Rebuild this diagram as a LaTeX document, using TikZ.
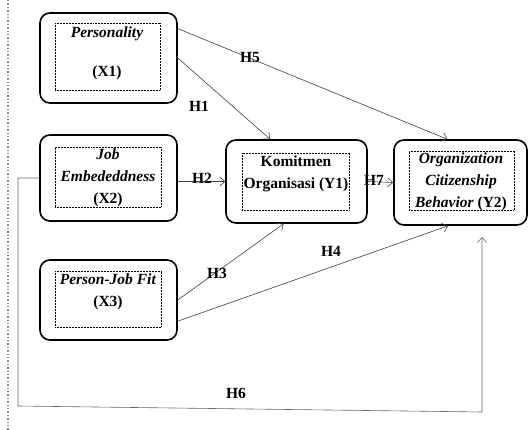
\documentclass[tikz,border=0pt]{standalone}
\usepackage{fontspec}
\setmainfont{Liberation Serif}
\usetikzlibrary{arrows.meta, positioning}

\begin{document}
\begin{tikzpicture}[
        x=1pt, y=-1pt,
        construct/.style={draw, line width=1.6pt, rounded corners=10pt, inner sep=0pt},
        frame/.style={draw, densely dotted, line width=0.5pt, inner sep=0pt},
        caption/.style={align=center, font=\fontsize{15.5}{22}\selectfont\bfseries, inner sep=0pt},
        hyp/.style={font=\fontsize{15.5}{17}\selectfont\bfseries, inner sep=1pt},
        link/.style={draw=black!75, line width=0.6pt, -{Straight Barb[length=5pt,width=9pt]}}
    ]
        \useasboundingbox (0,0) rectangle (528,430);

        % Page margin
        \draw[black!45, dotted, line width=1.4pt] (8,0) -- (8,430);

        % Constructs
        \node (x1) [construct, minimum width=137, minimum height=90] at (108.5, 58) {};
        \node (x2) [construct, minimum width=137, minimum height=86] at (108.5, 178) {};
        \node (x3) [construct, minimum width=137, minimum height=80] at (108.5, 300) {};
        \node (y1) [construct, minimum width=141, minimum height=83] at (296.5, 181.5) {};
        \node (y2) [construct, minimum width=133, minimum height=85] at (460.5, 182.5) {};

        % Inner frames
        \node (x1f) [frame, minimum width=105, minimum height=67] at (107.5, 56.5) {};
        \node (x2f) [frame, minimum width=106, minimum height=60] at (108, 177) {};
        \node (x3f) [frame, minimum width=106, minimum height=56] at (108, 299) {};
        \node (y1f) [frame, minimum width=107, minimum height=57] at (295.5, 181.5) {};
        \node (y2f) [frame, minimum width=105, minimum height=59] at (461.5, 180.5) {};

        % Captions
        \node (x1t) [caption] at (107, 53.5) {\textit{Personality}\\[17pt](X1)};
        \node (x2t) [caption] at (108, 177.5) {\textit{Job}\\\textit{Embededdness}\\(X2)};
        \node (x3t) [caption] at (108, 291.5) {\textit{Person-Job Fit}\\(X3)};
        \node (y1t) [caption] at (296, 173.5) {Komitmen\\Organisasi (Y1)};
        \node (y2t) [caption] at (461, 181.5) {\textit{Organization}\\\textit{Citizenship}\\\textit{Behavior} (Y2)};

        % Hypotheses
        \draw [link] (x1.23) -- (y2.107);
        \draw [link] (x1.east) -- (y1.122);
        \draw [link] (x2.east |- y1) -- (y1.west);
        \draw [link] (y1.east) -- (y2.west);
        \draw [link] (x3.east) -- (y1.253);
        \draw [link] (x3.-17) -- (y2.254);

        % Indirect path
        \coordinate (h6a) at (18, 406);
        \coordinate (h6b) at (482, 412);
        \coordinate (h6end) at (482, 237);
        \draw [link, draw=black!60] (x2.west) -| (h6a) -- (h6b) -- (h6end);

        % Labels
        \node (h1) [hyp] at (199, 106) {H1};
        \node (h2) [hyp] at (202, 178) {H2};
        \node (h3) [hyp] at (217, 273) {H3};
        \node (h4) [hyp] at (331, 251) {H4};
        \node (h5) [hyp] at (250, 58) {H5};
        \node (h6) [hyp] at (236, 393) {H6};
        \node (h7) [hyp] at (374, 180) {H7};
    \end{tikzpicture}
\end{document}
